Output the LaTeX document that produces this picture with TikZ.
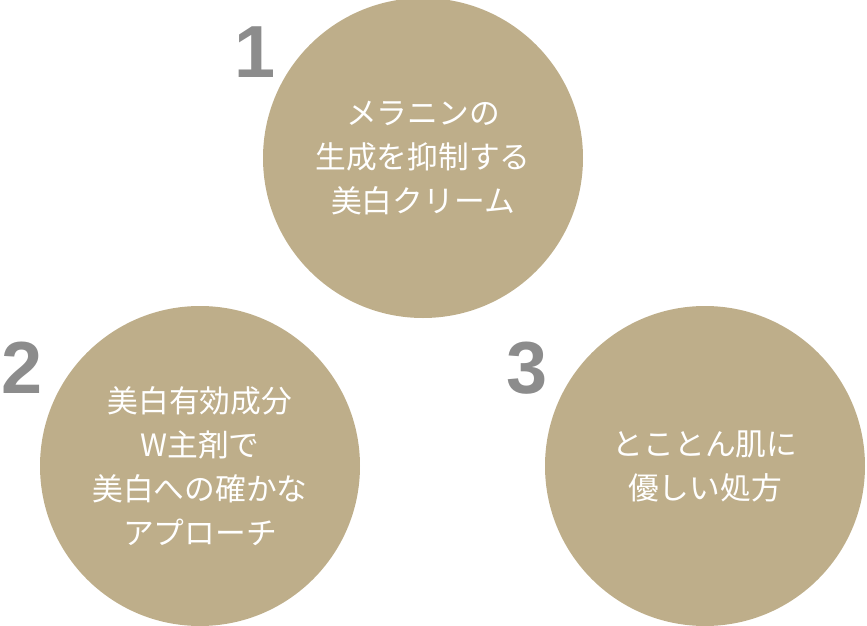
\documentclass[tikz,border=0pt]{standalone}
\usepackage{fontspec}
\setmainfont{Liberation Sans}
\newfontfamily\jpfont{Noto Sans CJK JP}
\usetikzlibrary{positioning}
\definecolor{beige}{HTML}{BEAE8A}
\definecolor{numgray}{HTML}{8C8C8C}
\tikzset{
  bubble/.style={circle, fill=beige, minimum size=320*0.02cm, inner sep=0pt},
  caption/.style={text=white, align=center, font=\jpfont\fontsize{17.5}{25}\selectfont},
  number/.style={text=numgray, font=\bfseries\fontsize{42}{42}\selectfont}
}
\begin{document}
\begin{tikzpicture}[x=0.02cm, y=-0.02cm]
\useasboundingbox (0,0) rectangle (867,626);
% Circles
\node[bubble] (cream) at (423,158) {};
\node[bubble] (double) at (200,466) {};
\node[bubble] (gentle) at (705,466) {};

% Captions
\node[caption] (creamtext) at (423,158) {メラニンの\\生成を抑制する\\美白クリーム};
\node[caption] (doubletext) at (200,466) {美白有効成分\\W主剤で\\美白への確かな\\アプローチ};
\node[caption] (gentletext) at (705,466) {とことん肌に\\優しい処方};

% Numbers
\node[number] (one) at (255,52) {1};
\node[number] (two) at (22,368) {2};
\node[number] (three) at (527,368) {3};
\end{tikzpicture}
\end{document}
